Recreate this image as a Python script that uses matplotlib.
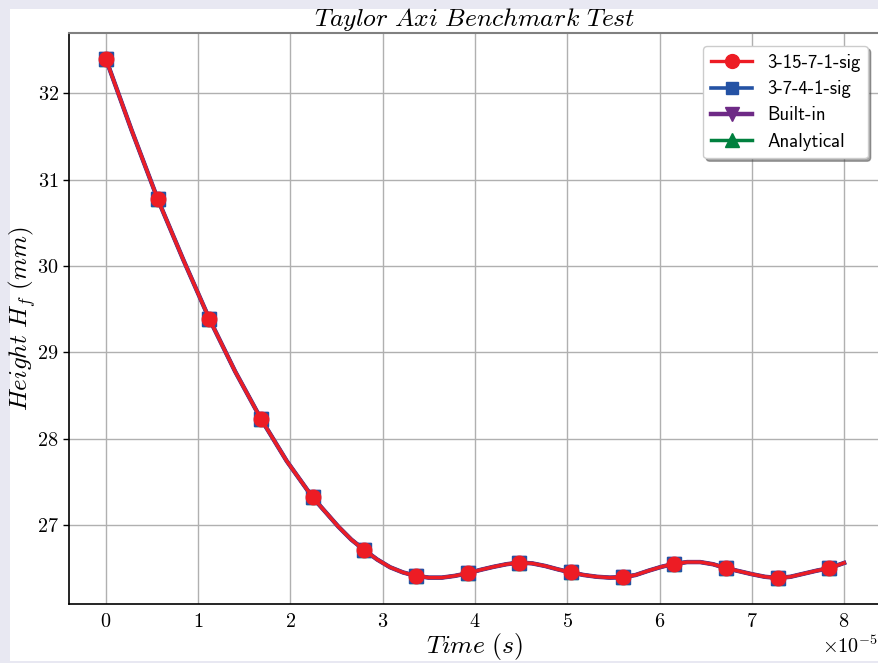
import numpy as np
import matplotlib
matplotlib.use("Agg")
import matplotlib.pyplot as plt
from matplotlib.patches import Rectangle

# ---- data (time in units of 1e-5 s, height in mm) ----
time_e5 = [0.00, 0.28, 0.56, 0.84, 1.12, 1.40, 1.68, 1.96, 2.24, 2.52,
           2.66, 2.80, 2.94, 3.08, 3.22, 3.36, 3.50, 3.64, 3.78, 3.92,
           4.06, 4.20, 4.34, 4.48, 4.62, 4.76, 4.90, 5.04, 5.18, 5.32,
           5.46, 5.60, 5.74, 5.88, 6.02, 6.16, 6.30, 6.44, 6.58, 6.72,
           6.86, 7.00, 7.14, 7.28, 7.42, 7.56, 7.70, 7.84, 8.00]
h_ann_15 = [32.40, 31.57, 30.78, 30.07, 29.39, 28.78, 28.23, 27.74, 27.32, 26.98,
            26.83, 26.71, 26.60, 26.51, 26.45, 26.41, 26.39, 26.39, 26.41, 26.44,
            26.48, 26.515, 26.545, 26.565, 26.555, 26.525, 26.485, 26.45, 26.42, 26.40,
            26.39, 26.395, 26.42, 26.47, 26.515, 26.55, 26.57, 26.57, 26.545, 26.50,
            26.465, 26.43, 26.40, 26.385, 26.40, 26.435, 26.47, 26.50, 26.56]
h_ann_7 = list(h_ann_15)
h_builtin = list(h_ann_15)
h_analytical = list(h_ann_15)
marker_step_e5 = 0.56

labels = ["3-15-7-1-sig", "3-7-4-1-sig", "Built-in", "Analytical"]
colors = ["#ed1c24", "#2452a4", "#6e2a86", "#00803e"]
markers = ["o", "s", "v", "^"]

plt.rcParams["font.family"] = "serif"
plt.rcParams["font.serif"] = ["cmr10"]
plt.rcParams["mathtext.fontset"] = "cm"
plt.rcParams["axes.formatter.use_mathtext"] = True
plt.rcParams["axes.unicode_minus"] = False

fig = plt.figure(figsize=(8.79, 6.63), dpi=100)
fig.patch.set_facecolor("#e8e8f2")
W, H = 879.0, 663.0
bg = Rectangle((10 / W, 2 / H), 1.0, 652 / H, transform=fig.transFigure,
               facecolor="white", edgecolor="none", zorder=-10)
fig.add_artist(bg)

ax = fig.add_axes([69 / W, 1 - 604 / H, (881 - 69) / W, (604 - 33) / H])
ax.set_facecolor("white")

t = np.array(time_e5) * 1e-5
mk_idx = [i for i, tv in enumerate(time_e5)
          if abs(tv / marker_step_e5 - round(tv / marker_step_e5)) < 1e-6]
series = [h_ann_15, h_ann_7, h_builtin, h_analytical]
lws = [2.4, 2.6, 3.2, 2.5]
mss = [10.5, 9.5, 10.5, 10]
handles = [None] * 4
for i in [3, 2, 1, 0]:
    (ln,) = ax.plot(t, series[i], color=colors[i], lw=lws[i], marker=markers[i],
                    ms=mss[i], markevery=mk_idx, label=labels[i], zorder=3 + (3 - i))
    handles[i] = ln

ax.grid(True, color="#b0b0b0", lw=1.0)
ax.set_axisbelow(True)
ax.margins(x=0.05, y=0.05)

ax.set_yticks([27, 28, 29, 30, 31, 32])
ax.set_xticks(np.arange(0, 9) * 1e-5)
ax.tick_params(axis="y", labelsize=14.5, length=4, width=1, direction="out", pad=3.5)
ax.tick_params(axis="x", labelsize=14.5, length=0, pad=6.5)
off = ax.xaxis.get_offset_text()
off.set_fontsize(14.5)
off.set_horizontalalignment("right")
off.set_x(0.996)

for s in ["left", "bottom"]:
    ax.spines[s].set_color("black")
    ax.spines[s].set_linewidth(1.2)
ax.spines["top"].set_color("#808080")
ax.spines["top"].set_linewidth(1.5)
ax.spines["right"].set_color("#808080")

ax.set_title(r"$Taylor\ Axi\ Benchmark\ Test$", fontsize=18.5, pad=5)
ax.set_xlabel(r"$Time\ (s)$", fontsize=18.5, labelpad=0)
ax.set_ylabel(r"$Height\ H_f\ (mm)$", fontsize=18)
ax.yaxis.set_label_coords(-0.038, 0.5)

leg = ax.legend(handles=handles, labels=labels, loc="upper right",
                prop={"family": "cmss10", "size": 13.5}, shadow=True, fancybox=True,
                framealpha=1.0, edgecolor="#cccccc", borderaxespad=0.7,
                handlelength=2.2, labelspacing=0.45, markerscale=0.95)
leg.set_zorder(10)

fig.savefig("out.png", dpi=100, facecolor=fig.get_facecolor())
